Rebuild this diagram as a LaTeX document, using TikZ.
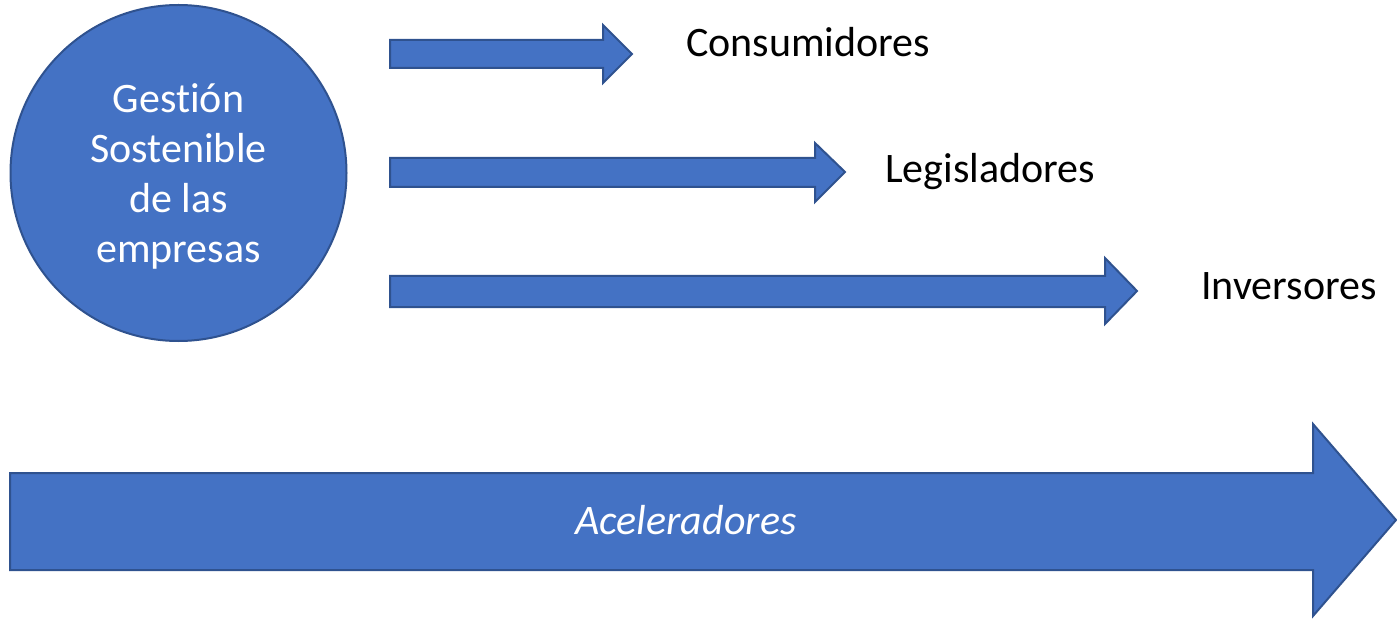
\documentclass[tikz,border=0pt]{standalone}
\usepackage{fontspec}
\setmainfont[Ligatures=NoCommon]{Carlito}
\definecolor{fillblue}{HTML}{4472C4}
\definecolor{edgeblue}{HTML}{2F528F}
\begin{document}
\begin{tikzpicture}[x=1pt,y=-1pt,
  shapeblue/.style={fill=fillblue,draw=edgeblue,line width=2pt,line join=miter},
  lbl/.style={anchor=base west,inner sep=0pt,font=\fontsize{42}{50}\selectfont}]
\useasboundingbox (0,0) rectangle (1397,620);
% circle
\node[shapeblue,circle,minimum size=336pt,inner sep=0pt] (gest) at (178.5,173) {};
\node[align=center,text=white,inner sep=0pt,font=\fontsize{42}{50}\selectfont] (gtext) at (178.5,176) {Gestión\\Sostenible\\de las\\empresas};
% arrows
\draw[shapeblue] (390,40) -- (603,40) -- (603,25) -- (632,54) -- (603,83) -- (603,68) -- (390,68) -- cycle;
\draw[shapeblue] (390,158) -- (815,158) -- (815,143) -- (845,172) -- (815,202) -- (815,187) -- (390,187) -- cycle;
\draw[shapeblue] (390,276) -- (1105,276) -- (1105,258) -- (1137,291) -- (1105,324) -- (1105,307) -- (390,307) -- cycle;
\draw[shapeblue] (10,473) -- (1313,473) -- (1313,424) -- (1396,520) -- (1313,616) -- (1313,570) -- (10,570) -- cycle;
% labels
\node[lbl] (cons) at (686,57) {Consumidores};
\node[lbl] (legi) at (885,183) {Legisladores};
\node[lbl] (inve) at (1201,300) {Inversores};
\node[lbl,text=white,font=\fontsize{42}{50}\selectfont\itshape] (acel) at (575,534) {Aceleradores};
\end{tikzpicture}
\end{document}
